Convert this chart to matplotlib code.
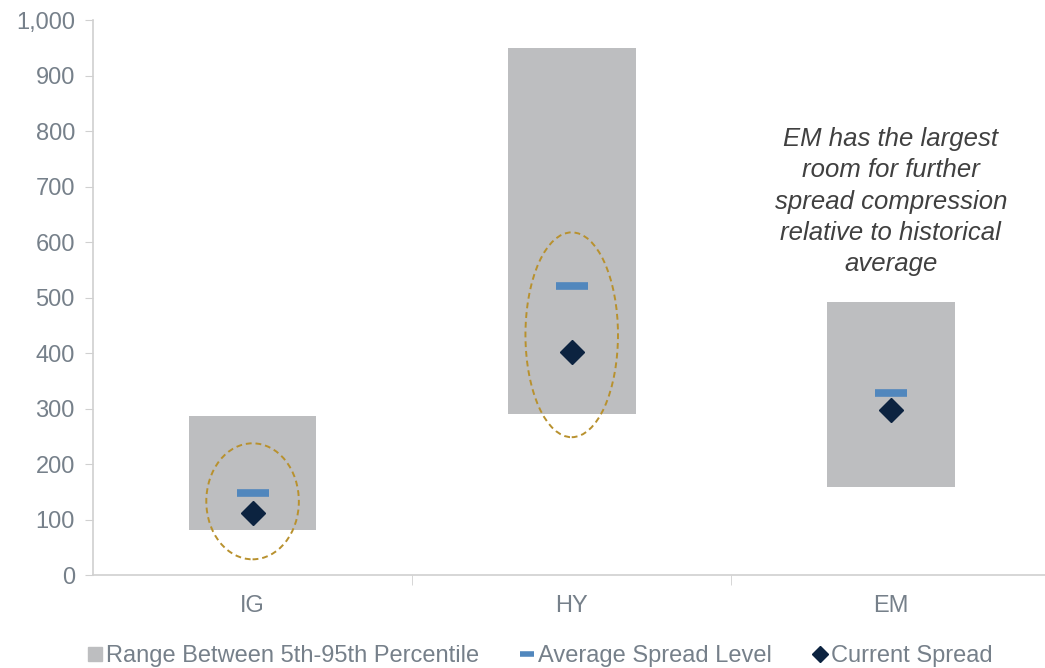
import matplotlib.pyplot as plt
from matplotlib.patches import Ellipse
from matplotlib.lines import Line2D

plt.rcParams['font.family'] = ['Liberation Sans', 'DejaVu Sans']

# data (bps)
categories = ['IG', 'HY', 'EM']
range_low = [81, 290, 159]
range_high = [286, 950, 492]
avg_spread = [148, 521, 328]
current_spread = [112, 402, 297]

# highlighted categories (center value, height in bps)
circled = ['IG', 'HY']
circle_center = [133, 433]
circle_height = [209, 369]

text_col = '#76808A'
axis_col = '#D0D0D0'

fig = plt.figure(figsize=(10.45, 6.68), dpi=100)
ax = fig.add_axes([0.089, 0.139, 0.911, 0.831])

x = list(range(len(categories)))
heights = [h - l for l, h in zip(range_low, range_high)]
ax.bar(x, heights, bottom=range_low, width=0.4, color='#BDBEC0', zorder=1)
ax.plot(x, avg_spread, linestyle='none', marker='_', markersize=23,
        markeredgewidth=5.5, color='#5187BD', zorder=3)
ax.plot(x, current_spread, linestyle='none', marker='D', markersize=12,
        color='#0C2340', zorder=4)

for name, c, h in zip(circled, circle_center, circle_height):
    i = categories.index(name)
    e = Ellipse((i, c), width=0.29, height=h, fill=False, edgecolor='#B8912E',
                linestyle=(0, (3, 2)), linewidth=1.4, zorder=5)
    ax.add_patch(e)

ax.text(2, 673, 'EM has the largest\nroom for further\nspread compression\nrelative to historical\naverage',
        ha='center', va='center', fontsize=18.5, style='italic', color='#404040',
        linespacing=1.38)

ax.set_xlim(-0.5, 2.483)
ax.set_ylim(0, 1000)
ax.set_yticks(range(0, 1001, 100))
ax.set_yticklabels([f'{v:,}' for v in range(0, 1001, 100)])
ax.set_xticks(x)
ax.set_xticklabels(categories)
ax.set_xticks([0.5, 1.5], minor=True)
ax.tick_params(axis='x', which='major', length=0, pad=14, labelsize=17, colors=text_col)
ax.tick_params(axis='x', which='minor', length=7, color=axis_col, direction='out')
ax.tick_params(axis='y', length=6, color=axis_col, labelsize=17, colors=text_col, pad=7)
for s in ['top', 'right']:
    ax.spines[s].set_visible(False)
for s in ['left', 'bottom']:
    ax.spines[s].set_color(axis_col)
    ax.spines[s].set_linewidth(1.2)

handles = [
    Line2D([], [], linestyle='none', marker='s', markersize=10, color='#BDBEC0'),
    Line2D([], [], linestyle='none', marker='_', markersize=10, markeredgewidth=4, color='#5187BD'),
    Line2D([], [], linestyle='none', marker='D', markersize=8, color='#0C2340'),
]
labels = ['Range Between 5th-95th Percentile', 'Average Spread Level', 'Current Spread']
fig.legend(handles, labels, loc='center left', bbox_to_anchor=(0.064, 0.018), ncol=3,
           frameon=False, fontsize=17, labelcolor=text_col, handlelength=0.6,
           handletextpad=0.15, columnspacing=1.75)

fig.savefig('out.png', dpi=100)
